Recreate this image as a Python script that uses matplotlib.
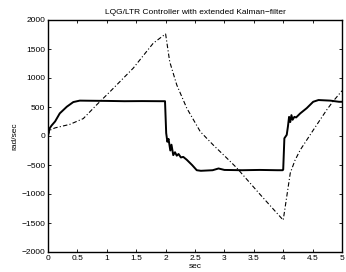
import numpy as np
import matplotlib.pyplot as plt

plt.rcParams['font.family'] = ['Liberation Sans', 'DejaVu Sans']

# measured speed (solid)
t_meas = [0.0, 0.01, 0.03, 0.06, 0.12, 0.2, 0.32, 0.43, 0.54, 0.7, 1.0, 1.3, 1.6, 1.9, 1.99,
          2.01, 2.03, 2.05, 2.08, 2.1, 2.13, 2.16, 2.19, 2.22, 2.26, 2.3, 2.36, 2.45, 2.53, 2.6,
          2.8, 2.9, 3.0, 3.3, 3.6, 3.9, 3.99,
          4.0, 4.02, 4.06, 4.08, 4.1, 4.12, 4.14, 4.16, 4.19, 4.22, 4.29, 4.4, 4.51, 4.6, 4.8, 4.95, 5.0]
v_meas = [0, 60, 135, 180, 250, 390, 505, 585, 610, 608, 605, 600, 602, 600, 600,
          50, -100, -50, -250, -150, -330, -280, -340, -310, -370, -360, -410, -500, -590, -600,
          -590, -560, -585, -590, -585, -590, -590,
          -580, -40, 20, 160, 330, 240, 360, 280, 330, 320, 390, 480, 590, 620, 610, 590, 590]

# estimated speed (dash-dot)
t_est = [0.0, 0.03, 0.12, 0.37, 0.6, 0.83, 1.05, 1.45, 1.79, 2.0,
         2.07, 2.19, 2.36, 2.59, 2.81, 3.04, 3.21, 3.6, 4.0,
         4.03, 4.12, 4.2, 4.29, 4.51, 4.74, 4.85, 5.0]
v_est = [0, 100, 140, 200, 300, 540, 760, 1170, 1600, 1760,
         1280, 880, 480, 75, -155, -380, -550, -1000, -1450,
         -1250, -640, -420, -240, 100, 450, 600, 780]

fig = plt.figure(figsize=(3.46, 2.72), dpi=100)
ax = fig.add_axes([48/346, 20/272, 294/346, 232/272])
ax.plot(t_meas, v_meas, color='k', linewidth=1.4)
ax.plot(t_est, v_est, color='k', linestyle=(0, (4, 2, 1, 2)), linewidth=0.8)

ax.set_xlim(0, 5)
ax.set_ylim(-2000, 2000)
ax.set_xticks(np.arange(0, 5.01, 0.5))
ax.set_xticklabels(['0', '0.5', '1', '1.5', '2', '2.5', '3', '3.5', '4', '4.5', '5'])
ax.set_yticks(np.arange(-2000, 2001, 500))
ax.tick_params(direction='in', length=2.5, width=0.6, labelsize=6, top=True, right=True, pad=2)
for s in ax.spines.values():
    s.set_linewidth(1.0)

ax.set_title('LQG/LTR Controller with extended Kalman\u2212filter', fontsize=6, pad=4)
ax.set_xlabel('sec', fontsize=6, labelpad=1)
ax.set_ylabel('rad/sec', fontsize=6, labelpad=2)

fig.savefig('out.png', dpi=100)
